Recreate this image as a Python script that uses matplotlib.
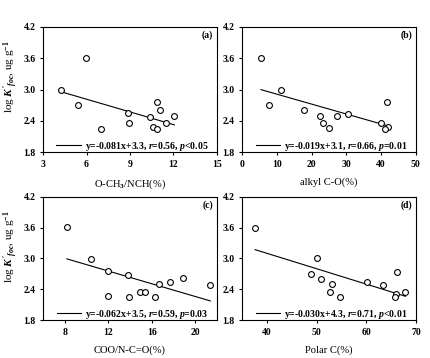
import matplotlib.pyplot as plt
import numpy as np

plt.rcParams['font.family'] = 'Liberation Serif'
plt.rcParams['font.weight'] = 'bold'
plt.rcParams['mathtext.fontset'] = 'custom'
plt.rcParams['mathtext.rm'] = 'Liberation Serif:bold'
plt.rcParams['mathtext.it'] = 'Liberation Serif:bold:italic'
plt.rcParams['mathtext.bf'] = 'Liberation Serif:bold'

# panel data
logk = [2.99, 3.61, 2.70, 2.25, 2.55, 2.36, 2.48, 2.76, 2.60, 2.28, 2.25, 2.36, 2.50]
och3 = [4.26, 5.93, 5.38, 7.02, 8.87, 8.94, 10.36, 10.84, 11.07, 10.57, 10.86, 11.46, 12.07]

logk_b = [3.61, 2.99, 2.71, 2.60, 2.50, 2.36, 2.26, 2.49, 2.54, 2.36, 2.76, 2.28, 2.25]
alkyl = [5.4, 11.2, 7.6, 17.9, 22.4, 23.2, 24.9, 27.4, 30.5, 40.0, 41.7, 41.9, 41.1]

logk_c = [3.62, 2.99, 2.75, 2.27, 2.68, 2.24, 2.35, 2.35, 2.24, 2.50, 2.55, 2.61, 2.49]
coo = [8.19, 10.43, 11.96, 11.96, 13.8, 13.95, 14.95, 15.38, 16.29, 16.66, 17.72, 18.9, 21.4]

logk_d = [3.60, 3.00, 2.70, 2.60, 2.50, 2.35, 2.24, 2.55, 2.49, 2.30, 2.24, 2.74, 2.35]
polar = [37.6, 50.0, 48.8, 50.8, 53.1, 52.6, 54.8, 60.1, 63.4, 65.9, 65.8, 66.2, 67.9]

slopes = [-0.081, -0.019, -0.062, -0.030]
intercepts = [3.3, 3.1, 3.5, 4.3]
fit_text = [r'y=-0.081x+3.3, $r$=0.56, $p$<0.05',
            r'y=-0.019x+3.1, $r$=0.66, $p$=0.01',
            r'y=-0.062x+3.5, $r$=0.59, $p$=0.03',
            r'y=-0.030x+4.3, $r$=0.71, $p$<0.01']
xlabels = [r'O-CH$_3$/NCH(%)', 'alkyl C-O(%)', 'COO/N-C=O(%)', 'Polar C(%)']
panel = ['(a)', '(b)', '(c)', '(d)']
xlims = [(3, 15), (0, 50), (6, 22), (35, 70)]
xticks = [[3, 6, 9, 12, 15], [0, 10, 20, 30, 40, 50], [8, 12, 16, 20], [40, 50, 60, 70]]

xs = [och3, alkyl, coo, polar]
ys = [logk, logk_b, logk_c, logk_d]

fig = plt.figure(figsize=(4.31, 3.58), dpi=100)
boxes = [[0.100, 0.575, 0.403, 0.350], [0.562, 0.575, 0.403, 0.350],
         [0.100, 0.106, 0.403, 0.344], [0.562, 0.106, 0.403, 0.344]]

for i in range(4):
	ax = fig.add_axes(boxes[i])
	x = np.array(xs[i])
	y = np.array(ys[i])
	ax.plot(x, y, 'o', mfc='white', mec='black', ms=4.2, mew=0.8, zorder=3)
	xx = np.array([x.min(), x.max()])
	ax.plot(xx, slopes[i] * xx + intercepts[i], color='black', lw=0.8, label=fit_text[i])
	ax.set_xlim(*xlims[i])
	ax.set_ylim(1.8, 4.2)
	ax.set_xticks(xticks[i])
	ax.set_yticks([1.8, 2.4, 3.0, 3.6, 4.2])
	ax.set_yticklabels(['1.8', '2.4', '3.0', '3.6', '4.2'])
	ax.tick_params(labelsize=7, length=2.5, width=0.8, pad=3)
	for s in ax.spines.values():
		s.set_linewidth(0.8)
	ax.set_xlabel(xlabels[i], fontsize=7.6, labelpad=6)
	if i % 2 == 0:
		ax.set_ylabel(r"log $K'_{foc}$, ug g$^{-1}$", fontsize=8)
		ax.yaxis.set_label_coords(-0.135, 0.6)
	ax.text(0.98, 0.97, panel[i], transform=ax.transAxes, ha='right', va='top', fontsize=7)
	ax.legend(loc='lower right', bbox_to_anchor=(0.95, -0.005), frameon=False, fontsize=7,
	          handlelength=2.5, handletextpad=0.4, borderaxespad=0.0, borderpad=0.0)

plt.savefig('out.png', dpi=100)
